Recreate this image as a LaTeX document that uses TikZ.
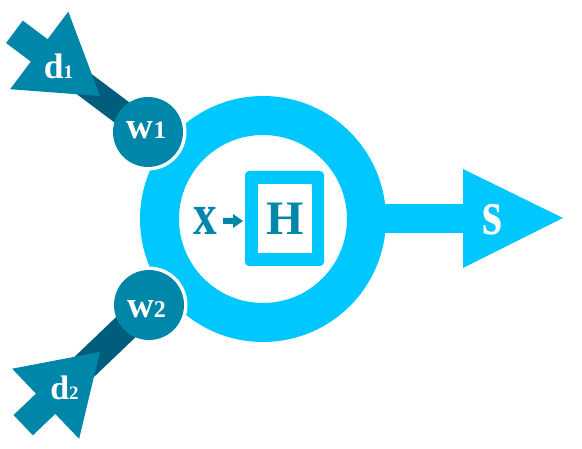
\documentclass[tikz,border=0pt]{standalone}
\usepackage{fontspec}
\setmainfont{Liberation Serif}
\definecolor{ringblue}{RGB}{0,200,255}
\definecolor{tealone}{RGB}{0,134,168}
\definecolor{tealdark}{RGB}{0,94,124}
\newcommand{\fs}[1]{\fontsize{#1}{#1}\selectfont}
\begin{document}
\begin{tikzpicture}[x=1pt,y=1pt,
  wlab/.style={text=white,font=\bfseries,inner sep=0pt,anchor=base},
  tlab/.style={text=tealone,font=\bfseries,inner sep=0pt,anchor=base},
  wcirc/.style={circle,fill=tealone,minimum size=70pt,inner sep=0pt},
  halo/.style={circle,fill=white,minimum size=77pt,inner sep=0pt}]
\useasboundingbox (0,0) rectangle (582,449);
% ring centre and output
\coordinate (C) at (263,230);
\coordinate (shead) at (463,230.5);
\node[circle,draw=ringblue,line width=39pt,minimum size=207pt,inner sep=0pt] (ring) at (C) {};
\draw[ringblue,line width=29pt] ([xshift=-20pt]ring.east |- shead) -- (shead);
\fill[ringblue] (463,280) -- (563,231) -- (463,181) -- cycle;
\node[wlab] (s) at (492,214) {\fs{64}\scalebox{0.8}[1]{s}};
% H box
\fill[ringblue,rounded corners=4pt] (245,183) rectangle (324,278);
\fill[white] (258,196) rectangle (312,265);
\node[tlab] (H) at (285.5,214) {\fs{48}H};
\node[tlab] (xl) at (205,214) {\fs{59}\scalebox{0.8}[1]{x}};
\fill[tealone] (223,225) -- (233,225) -- (233,221) -- (243,228) -- (233,235) -- (233,231) -- (223,231) -- cycle;
% halos
\node[halo] at (148,317) {};
\node[halo] at (149,144) {};
% d1 arrow
\begin{scope}[shift={(148,317)},rotate=-36.87]
  \fill[tealdark] (-110,-12.5) rectangle (0,12.5);
  \fill[tealone] (-60,0) -- (-136,48.5) -- (-136,14) -- (-167,14) -- (-167,-14) -- (-136,-14) -- (-136,-48.5) -- cycle;
\end{scope}
% d2 arrow
\begin{scope}[shift={(149,144)},rotate=43.7]
  \fill[tealdark] (-110,-14) rectangle (0,14);
  \fill[tealone] (-68,0) -- (-143,48.5) -- (-143,14) -- (-174,14) -- (-174,-14) -- (-143,-14) -- (-143,-48.5) -- cycle;
\end{scope}
% weight circles
\node[wcirc] (w1) at (148,317) {};
\node[wcirc] (w2) at (149,144) {};
\node[wlab] at (146.5,310) {\fs{37}w\fs{25}1};
\node[wlab] at (146.5,131) {\fs{37}w\fs{24}2};
\node[wlab] at (58.5,370) {\fs{35.5}d\fs{19}1};
\node[wlab] at (64.5,49) {\fs{34}d\fs{19}2};
\end{tikzpicture}
\end{document}
